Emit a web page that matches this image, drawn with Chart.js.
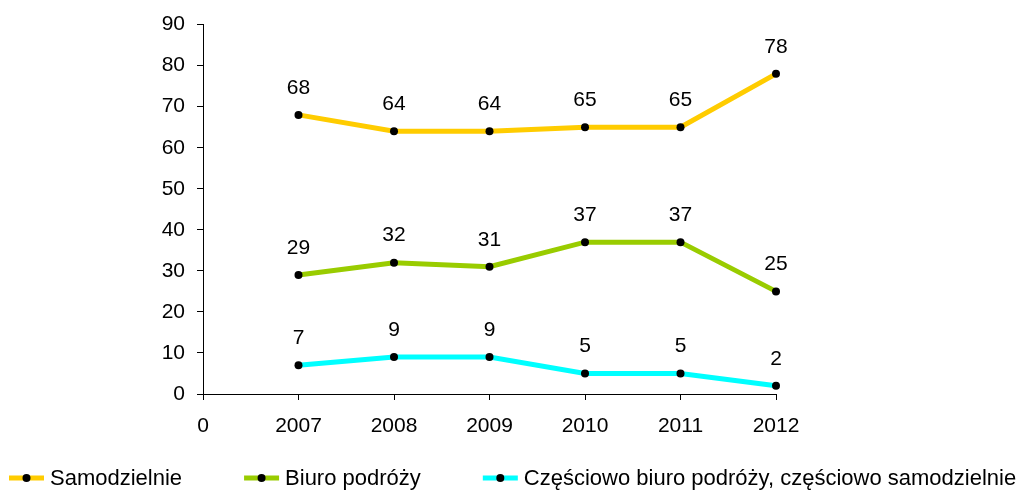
<!DOCTYPE html>
<html>
<head>
<meta charset="utf-8">
<script src="https://cdn.jsdelivr.net/npm/chart.js@4/dist/chart.umd.min.js"></script>
<style>
  body { margin: 0; background: #fff; }
</style>
</head>
<body>
<canvas id="myChart" width="1019" height="490"></canvas>
<script>
// Data
var years = ["0", "2007", "2008", "2009", "2010", "2011", "2012"];
var samodzielnie = [null, 68, 64, 64, 65, 65, 78];
var biuroPodrozy = [null, 29, 32, 31, 37, 37, 25];
var czesciowo = [null, 7, 9, 9, 5, 5, 2];
var yTicks = [0, 10, 20, 30, 40, 50, 60, 70, 80, 90];

var seriesNames = ["Samodzielnie", "Biuro podróży", "Częściowo biuro podróży, częściowo samodzielnie"];
var seriesColors = ["#FFCC00", "#99CC00", "#00FFFF"];

var FONT = "'Liberation Sans', Arial, sans-serif";

// values above the points
var valueLabels = {
  id: "valueLabels",
  afterDatasetsDraw: function (chart) {
    var ctx = chart.ctx;
    ctx.save();
    ctx.font = "21px " + FONT;
    ctx.fillStyle = "#000";
    ctx.textAlign = "center";
    ctx.textBaseline = "middle";
    chart.data.datasets.forEach(function (ds, i) {
      var meta = chart.getDatasetMeta(i);
      meta.data.forEach(function (pt, j) {
        var v = ds.data[j];
        if (v === null) return;
        ctx.fillText(String(v), pt.x, pt.y - 27);
      });
    });
    ctx.restore();
  },
};

// one-row legend along the bottom: line + dot marker, then the name
var lineLegend = {
  id: "lineLegend",
  afterDraw: function (chart) {
    var ctx = chart.ctx;
    var y = 478;
    var x = 9;
    ctx.save();
    ctx.font = "22px " + FONT;
    ctx.textBaseline = "middle";
    ctx.textAlign = "left";
    chart.data.datasets.forEach(function (ds) {
      ctx.fillStyle = ds.borderColor;
      ctx.fillRect(x, y - 2.5, 35, 5);
      ctx.fillStyle = "#000";
      ctx.beginPath();
      ctx.arc(x + 17.5, y, 4, 0, Math.PI * 2);
      ctx.fill();
      ctx.fillText(ds.label, x + 41, y + 1);
      x += 41 + ctx.measureText(ds.label).width + 62;
    });
    ctx.restore();
  },
};

function makeDataset(i, data) {
  return {
    label: seriesNames[i],
    data: data,
    borderColor: seriesColors[i],
    backgroundColor: seriesColors[i],
    borderWidth: 5,
    tension: 0,
    pointRadius: 4,
    pointHoverRadius: 4,
    pointBackgroundColor: "#000",
    pointBorderWidth: 0,
  };
}

var ctx = document.getElementById("myChart").getContext("2d");
var chart = new Chart(ctx, {
  type: "line",
  data: {
    labels: years,
    datasets: [
      makeDataset(0, samodzielnie),
      makeDataset(1, biuroPodrozy),
      makeDataset(2, czesciowo),
    ],
  },
  options: {
    responsive: false,
    animation: false,
    layout: {
      padding: { left: 0, right: 0, top: 24, bottom: 46 },
    },
    plugins: {
      tooltip: { enabled: false },
      legend: { display: false },
    },
    scales: {
      x: {
        offset: false,
        grid: { display: true, drawOnChartArea: false, tickLength: 6, color: "#000" },
        border: { color: "#000", width: 1 },
        ticks: {
          color: "#000",
          padding: 14,
          maxRotation: 0,
          autoSkip: false,
          font: { family: FONT, size: 21 },
        },
        afterFit: function (s) {
          s.height = 50;
        },
      },
      y: {
        min: 0,
        max: 90,
        afterBuildTicks: function (s) {
          s.ticks = yTicks.map(function (v) {
            return { value: v };
          });
        },
        grid: { display: true, drawOnChartArea: false, tickLength: 6, color: "#000" },
        border: { color: "#000", width: 1 },
        ticks: {
          color: "#000",
          padding: 12,
          font: { family: FONT, size: 21 },
        },
        afterFit: function (s) {
          s.width = 203;
        },
      },
      // empty space on the right of the plot
      spacer: {
        position: "right",
        display: true,
        grid: { display: false },
        border: { display: false },
        ticks: { display: false },
        afterFit: function (s) {
          s.width = 243;
        },
      },
    },
  },
  plugins: [valueLabels, lineLegend],
});
</script>
</body>
</html>
